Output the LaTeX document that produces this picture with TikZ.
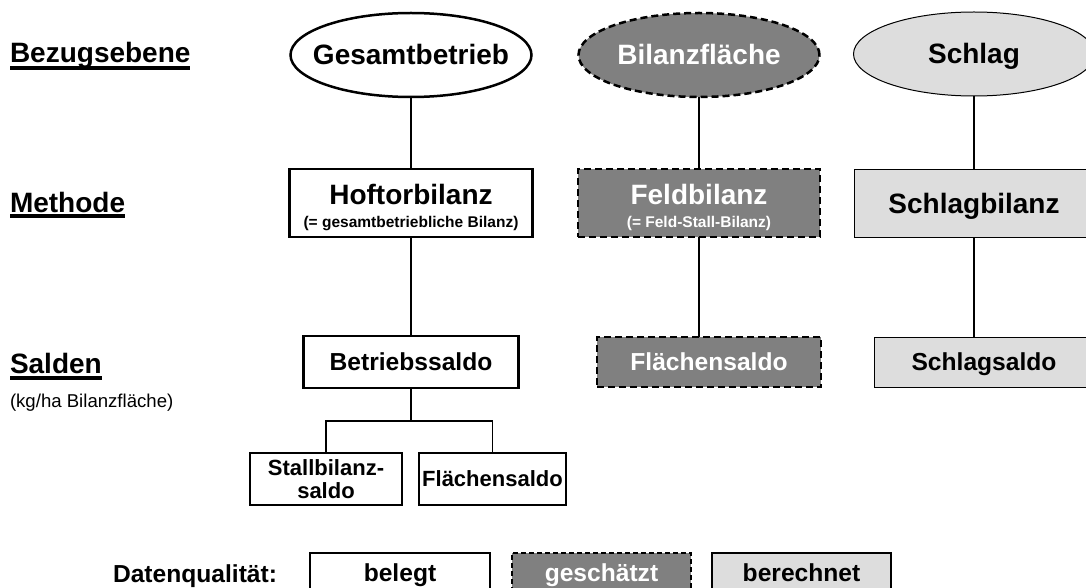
\documentclass[tikz,border=0pt]{standalone}
\usepackage{fontspec}
\setmainfont{Liberation Sans}
\usetikzlibrary{shapes.geometric}
\definecolor{darkfill}{HTML}{808080}
\definecolor{lightfill}{HTML}{DDDDDD}
\begin{document}
\begin{tikzpicture}[x=1pt,y=-1pt,
  every node/.style={inner sep=0pt,outer sep=0pt,font=\bfseries},
  conn/.style={line width=1.2pt},
  solidbox/.style={rectangle,draw,line width=2.8pt,fill=white},
  estbox/.style={rectangle,draw,line width=2.6pt,dash pattern=on 7pt off 4pt,fill=darkfill,text=white},
  calcbox/.style={rectangle,draw,line width=1pt,fill=lightfill},
  oval/.style={ellipse,minimum width=241pt,minimum height=84pt},
  big/.style={font=\bfseries\fontsize{28}{30}\selectfont,text height=20pt,text depth=0pt},
  mid/.style={font=\bfseries\fontsize{24.6}{27}\selectfont,text height=17.6pt,text depth=0pt},
  sml/.style={font=\bfseries\fontsize{22}{24}\selectfont,text height=15.8pt,text depth=0pt},
  twoline/.style={align=center,font=\bfseries\fontsize{15.5}{23}\selectfont},
  twosml/.style={align=center,font=\bfseries\fontsize{22}{23}\selectfont},
  heading/.style={font=\bfseries\fontsize{28}{30}\selectfont,anchor=base west},
  uline/.style={line width=3.5pt},
]
\useasboundingbox (0,0) rectangle (1086,588);
\fill[white] (0,0) rectangle (1086,588);

% left headings
\node[heading] (bez) at (10,63) {Bezugsebene};
\draw[uline] ([yshift=-5pt]bez.base west) -- ([yshift=-5pt]bez.base east);
\node[heading] (met) at (10,212) {Methode};
\draw[uline] ([yshift=-4pt]met.base west) -- ([yshift=-4pt]met.base east);
\node[heading] (sal) at (10,373) {Salden};
\draw[uline] ([yshift=-5pt]sal.base west) -- ([yshift=-5pt]sal.base east);
\node[anchor=base west,font=\fontsize{18.6}{20}\selectfont] (kgha) at (10,407) {(kg/ha Bilanzfläche)};

% row 1: ellipses
\node[oval,draw,line width=2.5pt,fill=white,big] (ges) at (411,55) {\makebox[0pt]{Gesamtbetrieb}};
\node[oval,draw,line width=2.5pt,dash pattern=on 7pt off 4pt,fill=darkfill,text=white,big] (bil) at (699,55) {\makebox[0pt]{Bilanzfläche}};
\node[oval,draw,line width=1pt,fill=lightfill,big] (sch) at (974,54) {\makebox[0pt]{Schlag}};

% row 2: methods
\node[solidbox,minimum width=243pt,minimum height=68pt,twoline] (hof) at (411,203)
  {\rule{0pt}{28.5pt}{\fontsize{28}{30}\selectfont Hoftorbilanz}\\(= gesamtbetriebliche Bilanz)};
\node[estbox,minimum width=242pt,minimum height=68pt,twoline] (feld) at (699,203)
  {\rule{0pt}{28.5pt}{\fontsize{28}{30}\selectfont Feldbilanz}\\(= Feld-Stall-Bilanz)};
\node[calcbox,minimum width=240pt,minimum height=67pt,big] (schb) at (974,203.5) {Schlagbilanz};

% row 3: balances
\node[solidbox,minimum width=215pt,minimum height=52pt,mid] (betr) at (411,362) {Betriebssaldo};
\node[estbox,minimum width=224pt,minimum height=50pt,mid] (flae) at (709,362) {Flächensaldo};
\node[calcbox,minimum width=220pt,minimum height=50pt,mid] (schs) at (984,362) {Schlagsaldo};

% row 4: sub balances
\node[solidbox,minimum width=152pt,minimum height=52pt,twosml] (stall) at (326,479)
  {Stallbilanz-\\saldo};
\node[solidbox,minimum width=147pt,minimum height=52pt,sml] (flae2) at (492.5,479) {Flächensaldo};

% connectors
\draw[conn] (ges.south) -- (hof.north);
\draw[conn] (hof.south) -- (betr.north);
\draw[conn] (bil.south) -- (feld.north);
\draw[conn] (feld.south) -- (feld.south |- flae.north);
\draw[conn] (sch.south) -- (schb.north);
\draw[conn] (schb.south) -- (schb.south |- schs.north);
\coordinate (br) at (411,421);
\draw[conn] (betr.south) -- (br);
\draw[conn] (stall.north) |- (br) -| (flae2.north);

% legend
\node[font=\bfseries\fontsize{24.6}{27}\selectfont,anchor=base west] (dq) at (113,582) {Datenqualität:};
\node[solidbox,line width=2.4pt,minimum width=180pt,minimum height=40pt,mid] (leg1) at (400,573) {belegt};
\node[estbox,line width=2pt,dash pattern=on 5pt off 3pt,minimum width=179pt,minimum height=40pt,mid] (leg2) at (601.5,573) {geschätzt};
\node[calcbox,line width=2pt,minimum width=179pt,minimum height=40pt,mid] (leg3) at (801.5,573) {berechnet};
\end{tikzpicture}
\end{document}
